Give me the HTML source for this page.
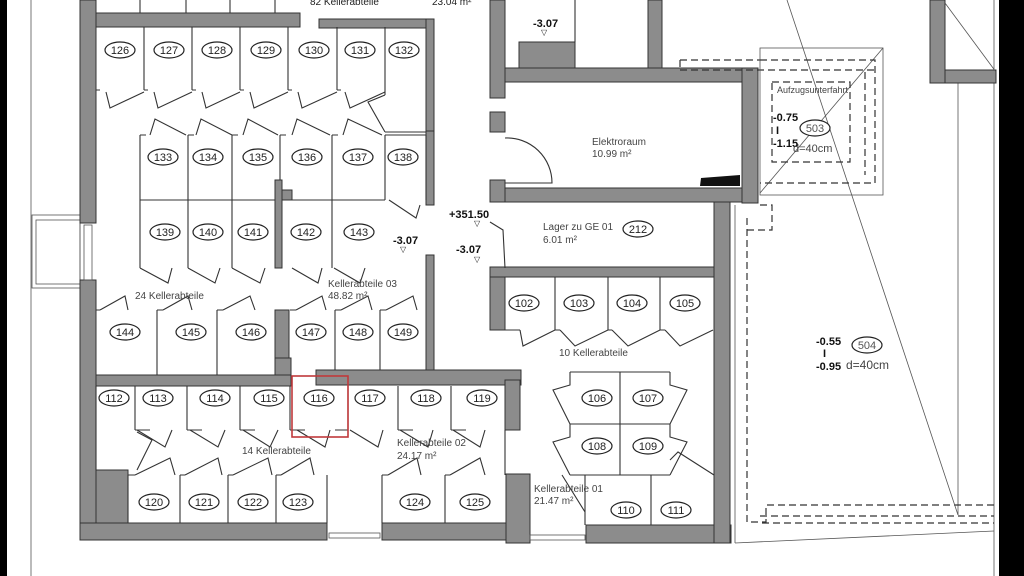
<!DOCTYPE html>
<html><head><meta charset="utf-8"><style>
html,body{margin:0;padding:0;background:#fff}
svg{display:block}
text{font-family:"Liberation Sans",sans-serif;fill:#222}
.w{fill:#8c8c8c;stroke:#333;stroke-width:1}
.l{stroke:#333;stroke-width:1.1;fill:none}
.t{stroke:#555;stroke-width:0.8;fill:none}
.d{stroke:#333;stroke-width:1.2;fill:none;stroke-dasharray:7,4}
.p ellipse{fill:#fff;stroke:#222;stroke-width:1.2}
.p text{font-size:11px;text-anchor:middle}
.s{font-size:10px;fill:#444}
.b{font-size:11px;font-weight:bold;fill:#111}
</style></head><body>
<svg width="1024" height="576" viewBox="0 0 1024 576" xmlns="http://www.w3.org/2000/svg">
<rect x="0" y="0" width="1024" height="576" fill="#fff"/>
<rect x="0" y="0" width="7" height="576" fill="#000"/>
<rect x="999" y="0" width="25" height="576" fill="#000"/>
<!-- outer thin lines -->
<line class="t" x1="31" y1="0" x2="31" y2="576"/>
<rect class="t" x="32" y="215" width="48" height="73"/>
<rect class="t" x="36" y="220" width="44" height="64"/>
<line class="t" x1="994" y1="0" x2="994" y2="576"/>
<line class="t" x1="958" y1="83" x2="958" y2="515"/>
<!-- left main wall -->
<rect class="w" x="80" y="0" width="16" height="223"/>
<rect class="w" x="80" y="280" width="16" height="260"/>
<rect class="t" x="84" y="225" width="8" height="55"/>
<!-- top walls -->
<rect class="w" x="96" y="13" width="204" height="14"/>
<rect class="w" x="319" y="19" width="115" height="9"/>
<rect class="w" x="426" y="19" width="8" height="112"/>
<rect class="w" x="426" y="131" width="8" height="74"/>
<rect class="w" x="426" y="255" width="8" height="120"/>
<!-- top small cells -->
<line class="l" x1="140" y1="0" x2="140" y2="13"/><line class="l" x1="186" y1="0" x2="186" y2="13"/><line class="l" x1="230" y1="0" x2="230" y2="13"/><line class="l" x1="275" y1="0" x2="275" y2="13"/>
<text x="310" y="5" font-size="10" fill="#333">82 Kellerabteile</text>
<text x="432" y="5" font-size="10" fill="#333">23.04 m²</text>
<!-- row 126-132 -->
<g class="l">
<path d="M144 27V90M192 27V90M240 27V90M288 27V90M337 27V90M385 27V95"/>
<path d="M96 90H100M144 90H148M192 90H196M240 90H244M288 90H292M337 90H341"/>
<path d="M106 92L110 108L144 92M154 92L158 108L192 92M202 92L206 108L240 92M250 92L254 108L288 92M298 92L302 108L337 92M345 92L350 108L385 92"/>
<path d="M385 95L368 102L385 132M385 132H426"/>
</g>
<!-- row 133-138 / 139-143 -->
<g class="l">
<path d="M140 135V268M188 135V268M232 135V268M280 135V268M332 135V268M385 135V200M426 135V200"/>
<path d="M140 200H385"/>
<path d="M140 135H146M188 135H194M232 135H238M280 135H286M332 135H338M385 135H426"/>
<path d="M150 135L155 119L186 135M196 135L201 119L232 135M243 135L248 119L278 135M292 135L297 119L330 135M343 135L348 119L382 135"/>
<path d="M389 200L416 218L420 205"/>
<path d="M140 268L168 283L172 268M188 268L215 283L220 268M232 268L260 283L265 268M292 268L318 283L322 268M334 268L360 283L365 268"/>
</g>
<rect class="w" x="275" y="180" width="7" height="88"/>
<rect class="w" x="282" y="190" width="10" height="10"/>
<!-- row 144-149 -->
<g class="l">
<path d="M96 310H100M157 310H163M217 310H223M290 310H296M335 310H341M380 310H386"/>
<path d="M157 310V375M217 310V375M335 310V375M380 310V375"/>
<path d="M100 310L125 296L128 310M163 310L188 296L192 310M223 310L250 296L255 310M296 310L322 296L326 310M341 310L368 296L372 310M386 310L413 296L417 310"/>
</g>
<rect class="w" x="275" y="310" width="14" height="48"/>
<rect class="w" x="275" y="358" width="16" height="27"/>
<!-- horizontal wall -->
<rect class="w" x="96" y="375" width="195" height="11"/>
<rect class="w" x="316" y="370" width="205" height="15"/>
<rect class="w" x="505" y="380" width="15" height="50"/>
<!-- row 112-119 -->
<g class="l">
<path d="M96 386V470M135 386V430M187 386V430M240 386V430M290 386V430M348 386V430M398 386V430M451 386V430"/>
<path d="M135 430H150M187 430H202M240 430H255M290 430H305M335 430H348M398 430H413M451 430H466"/>
<path d="M137 430L165 447L172 430M190 430L218 447L225 430M243 430L270 447L278 430M297 430L325 447L330 430M350 430L378 447L383 430M400 430L428 447L433 430M453 430L480 447L485 430"/>
<path d="M137 432L152 440L137 470"/>
</g>
<!-- row 120-125 -->
<rect class="w" x="96" y="470" width="32" height="53"/>
<g class="l">
<path d="M96 470H128M128 475V523M180 475V523M228 475V523M276 475V523M327 475V523M382 475V523M445 475V523M505 430V475"/>
<path d="M128 475H135M180 475H185M228 475H233M276 475H281M382 475H388M445 475H450"/>
<path d="M135 475L170 458L175 475M185 475L218 458L222 475M233 475L268 458L272 475M281 475L310 458L314 475M388 475L417 458L421 475M450 475L480 458L485 475"/>
</g>
<!-- bottom walls -->
<rect class="w" x="80" y="523" width="247" height="17"/>
<rect class="w" x="382" y="523" width="146" height="17"/>
<rect class="w" x="506" y="474" width="24" height="69"/>
<rect class="w" x="586" y="525" width="145" height="18"/>
<rect class="t" x="329" y="533" width="51" height="5"/>
<rect class="t" x="530" y="535" width="55" height="5"/>
<!-- middle column -->
<rect class="w" x="490" y="0" width="15" height="98"/>
<rect class="w" x="490" y="112" width="15" height="20"/>
<rect class="w" x="490" y="180" width="15" height="22"/>
<rect class="w" x="519" y="42" width="56" height="26"/>
<line class="l" x1="575" y1="0" x2="575" y2="42"/>
<rect class="w" x="648" y="0" width="14" height="70"/>
<rect class="w" x="505" y="68" width="253" height="14"/>
<rect class="w" x="742" y="68" width="16" height="135"/>
<rect class="w" x="505" y="188" width="237" height="14"/>
<path class="l" d="M505 138A45 45 0 0 1 552 183H505"/>
<path d="M700 186L701 178L740 175V186Z" fill="#111"/>
<!-- Lager -->
<rect class="w" x="714" y="202" width="16" height="341"/>
<rect class="w" x="490" y="267" width="224" height="10"/>
<rect class="w" x="490" y="277" width="15" height="53"/>
<path class="l" d="M490 222L503 230L505 268"/>
<!-- 102-105 -->
<g class="l">
<path d="M555 277V330M608 277V330M660 277V330"/>
<path d="M505 330H520M555 330H560M608 330H612M660 330H665"/>
<path d="M520 330L523 346L555 330M560 330L575 346L608 330M612 330L628 346L660 330M665 330L680 346L713 330"/>
</g>
<!-- 106-109 cluster -->
<g class="l">
<path d="M570 372H670M570 424H670M570 475H670M620 372V475M570 372V385L553 390L570 424M670 372V385L687 390L670 424M570 424V437L553 442L570 475M670 424V437L687 442L670 475"/>
<path d="M670 460L678 452L714 475"/>
<path d="M651 475V525M585 475V525M562 475L585 512"/>
</g>
<!-- right area -->
<line class="t" x1="735" y1="205" x2="735" y2="543"/>
<path class="d" d="M747 218V522H766V505H994M760 516H994M762 523H994"/>
<path class="d" d="M680 60H760M680 70H875M680 60V70"/>
<line class="t" x1="735" y1="543" x2="994" y2="531"/>
<line class="t" x1="787" y1="0" x2="958" y2="515"/>
<rect class="t" x="760" y="48" width="123" height="147"/>
<line class="t" x1="760" y1="193" x2="883" y2="48"/>
<path class="d" d="M772 82H850V162H772Z"/>
<path class="d" d="M760 60H875V183H760M865 72V175"/>
<path class="d" d="M760 205H772V230H747"/>
<rect class="w" x="930" y="0" width="15" height="83"/>
<rect class="w" x="945" y="70" width="51" height="13"/>
<line class="t" x1="945" y1="3" x2="996" y2="72"/>
<!-- red box -->
<rect x="292" y="376" width="56" height="61" fill="none" stroke="#c0393b" stroke-width="1.6"/>
<!-- labels -->
<g class="p">
<ellipse cx="120" cy="50" rx="15" ry="8"/><text x="120" y="54">126</text>
<ellipse cx="169" cy="50" rx="15" ry="8"/><text x="169" y="54">127</text>
<ellipse cx="217" cy="50" rx="15" ry="8"/><text x="217" y="54">128</text>
<ellipse cx="266" cy="50" rx="15" ry="8"/><text x="266" y="54">129</text>
<ellipse cx="314" cy="50" rx="15" ry="8"/><text x="314" y="54">130</text>
<ellipse cx="360" cy="50" rx="15" ry="8"/><text x="360" y="54">131</text>
<ellipse cx="404" cy="50" rx="15" ry="8"/><text x="404" y="54">132</text>
<ellipse cx="163" cy="157" rx="15" ry="8"/><text x="163" y="161">133</text>
<ellipse cx="208" cy="157" rx="15" ry="8"/><text x="208" y="161">134</text>
<ellipse cx="258" cy="157" rx="15" ry="8"/><text x="258" y="161">135</text>
<ellipse cx="307" cy="157" rx="15" ry="8"/><text x="307" y="161">136</text>
<ellipse cx="358" cy="157" rx="15" ry="8"/><text x="358" y="161">137</text>
<ellipse cx="403" cy="157" rx="15" ry="8"/><text x="403" y="161">138</text>
<ellipse cx="165" cy="232" rx="15" ry="8"/><text x="165" y="236">139</text>
<ellipse cx="208" cy="232" rx="15" ry="8"/><text x="208" y="236">140</text>
<ellipse cx="253" cy="232" rx="15" ry="8"/><text x="253" y="236">141</text>
<ellipse cx="306" cy="232" rx="15" ry="8"/><text x="306" y="236">142</text>
<ellipse cx="359" cy="232" rx="15" ry="8"/><text x="359" y="236">143</text>
<ellipse cx="125" cy="332" rx="15" ry="8"/><text x="125" y="336">144</text>
<ellipse cx="191" cy="332" rx="15" ry="8"/><text x="191" y="336">145</text>
<ellipse cx="251" cy="332" rx="15" ry="8"/><text x="251" y="336">146</text>
<ellipse cx="311" cy="332" rx="15" ry="8"/><text x="311" y="336">147</text>
<ellipse cx="358" cy="332" rx="15" ry="8"/><text x="358" y="336">148</text>
<ellipse cx="403" cy="332" rx="15" ry="8"/><text x="403" y="336">149</text>
<ellipse cx="114" cy="398" rx="15" ry="8"/><text x="114" y="402">112</text>
<ellipse cx="158" cy="398" rx="15" ry="8"/><text x="158" y="402">113</text>
<ellipse cx="215" cy="398" rx="15" ry="8"/><text x="215" y="402">114</text>
<ellipse cx="269" cy="398" rx="15" ry="8"/><text x="269" y="402">115</text>
<ellipse cx="319" cy="398" rx="15" ry="8"/><text x="319" y="402">116</text>
<ellipse cx="370" cy="398" rx="15" ry="8"/><text x="370" y="402">117</text>
<ellipse cx="426" cy="398" rx="15" ry="8"/><text x="426" y="402">118</text>
<ellipse cx="482" cy="398" rx="15" ry="8"/><text x="482" y="402">119</text>
<ellipse cx="154" cy="502" rx="15" ry="8"/><text x="154" y="506">120</text>
<ellipse cx="204" cy="502" rx="15" ry="8"/><text x="204" y="506">121</text>
<ellipse cx="253" cy="502" rx="15" ry="8"/><text x="253" y="506">122</text>
<ellipse cx="298" cy="502" rx="15" ry="8"/><text x="298" y="506">123</text>
<ellipse cx="415" cy="502" rx="15" ry="8"/><text x="415" y="506">124</text>
<ellipse cx="475" cy="502" rx="15" ry="8"/><text x="475" y="506">125</text>
<ellipse cx="524" cy="303" rx="15" ry="8"/><text x="524" y="307">102</text>
<ellipse cx="579" cy="303" rx="15" ry="8"/><text x="579" y="307">103</text>
<ellipse cx="632" cy="303" rx="15" ry="8"/><text x="632" y="307">104</text>
<ellipse cx="685" cy="303" rx="15" ry="8"/><text x="685" y="307">105</text>
<ellipse cx="597" cy="398" rx="15" ry="8"/><text x="597" y="402">106</text>
<ellipse cx="648" cy="398" rx="15" ry="8"/><text x="648" y="402">107</text>
<ellipse cx="597" cy="446" rx="15" ry="8"/><text x="597" y="450">108</text>
<ellipse cx="648" cy="446" rx="15" ry="8"/><text x="648" y="450">109</text>
<ellipse cx="626" cy="510" rx="15" ry="8"/><text x="626" y="514">110</text>
<ellipse cx="676" cy="510" rx="15" ry="8"/><text x="676" y="514">111</text>
<ellipse cx="638" cy="229" rx="15" ry="8"/><text x="638" y="233">212</text>
<ellipse cx="815" cy="128" rx="15" ry="8"/><text x="815" y="132" style="fill:#555">503</text>
<ellipse cx="867" cy="345" rx="15" ry="8"/><text x="867" y="349" style="fill:#555">504</text>
</g>
<text class="s" x="135" y="299">24 Kellerabteile</text>
<text class="s" x="328" y="287">Kellerabteile 03</text>
<text class="s" x="328" y="299">48.82 m²</text>
<text class="s" x="242" y="454">14 Kellerabteile</text>
<text class="s" x="397" y="446">Kellerabteile 02</text>
<text class="s" x="397" y="459">24.17 m²</text>
<text class="s" x="559" y="356">10 Kellerabteile</text>
<text class="s" x="534" y="492">Kellerabteile 01</text>
<text class="s" x="534" y="504">21.47 m²</text>
<text class="s" x="592" y="145">Elektroraum</text>
<text class="s" x="592" y="157">10.99 m²</text>
<text class="s" x="543" y="230">Lager zu GE 01</text>
<text class="s" x="543" y="243">6.01 m²</text>
<text class="s" x="777" y="93" style="font-size:9px">Aufzugsunterfahrt</text>
<text class="b" x="533" y="27">-3.07</text><text x="541" y="35" font-size="8">▽</text>
<text class="b" x="449" y="218">+351.50</text><text x="474" y="226" font-size="8">▽</text>
<text class="b" x="456" y="253">-3.07</text><text x="474" y="262" font-size="8">▽</text>
<text class="b" x="393" y="244">-3.07</text><text x="400" y="252" font-size="8">▽</text>
<text class="b" x="773" y="121">-0.75</text>
<text class="b" x="776" y="134">I</text>
<text class="b" x="773" y="147">-1.15</text>
<text class="s" x="793" y="152" style="font-size:11px">d=40cm</text>
<text class="b" x="816" y="345">-0.55</text>
<text class="b" x="823" y="357">I</text>
<text class="b" x="816" y="370">-0.95</text>
<text class="s" x="846" y="369" style="font-size:12px">d=40cm</text>
</svg>
</body></html>
